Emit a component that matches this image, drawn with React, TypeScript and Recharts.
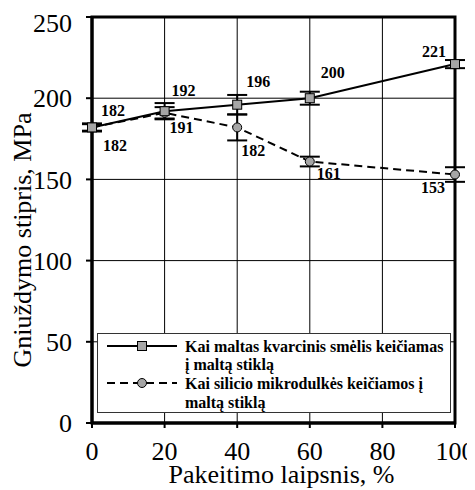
import React from 'react';
import {
  LineChart, Line, XAxis, YAxis, CartesianGrid, ErrorBar, LabelList, Legend, ReferenceArea,
} from 'recharts';

const replacement = [0, 20, 40, 60, 100];
const quartzValues = [182, 192, 196, 200, 221];
const quartzErrors = [2, 5, 6, 4, 2.5];
const silicaValues = [182, 191, 182, 161, 153];
const silicaErrors = [2.5, 3.5, 8, 3, 4.5];
const xTicks = [0, 20, 40, 60, 80, 100];
const yTicks = [0, 50, 100, 150, 200, 250];

const quartzName = ['Kai maltas kvarcinis smėlis keičiamas', 'į maltą stiklą'];
const silicaName = ['Kai silicio mikrodulkės keičiamos į', 'maltą stiklą'];

const data = replacement.map((x, i) => ({
  x,
  quartz: quartzValues[i],
  quartzErr: quartzErrors[i],
  silica: silicaValues[i],
  silicaErr: silicaErrors[i],
}));

// label offsets (styling), per point index
const quartzLabelOffset = [[21, -17], [19, -21], [21, -23], [23, -26], [-21, -13]];
const silicaLabelOffset = [[23, 18], [17, 15], [16, 23], [19, 12], [-22, 13]];

const FONT = 'Liberation Serif';
const GRAY = '#a6a6a6';
const DASH = '8 5';
const serif = { fontFamily: FONT };

const makeLabel = (offsets: number[][]) => (props: any) => {
  const { x, y, value, index } = props;
  const [dx, dy] = offsets[index] || [0, 0];
  return (
    <text
      x={x + dx}
      y={y + dy}
      textAnchor="middle"
      dominantBaseline="central"
      fontFamily={FONT}
      fontWeight="bold"
      fontSize={16}
      fill="#000"
    >
      {value}
    </text>
  );
};

const SquareDot = (props: any) => {
  const { cx, cy, index } = props;
  if (cx == null || cy == null) return null;
  return <rect key={`sq-${index}`} x={cx - 4.5} y={cy - 4.5} width={9} height={9} fill={GRAY} stroke="#000" strokeWidth={1} />;
};

const LegendBox = () => (
  <svg width={354} height={80} style={{ display: 'block' }}>
    <rect x={0.5} y={0.5} width={353} height={79} fill="#fff" stroke="#333" strokeWidth={1} />
    <line x1={10} y1={13} x2={80} y2={13} stroke="#000" strokeWidth={2} />
    <rect x={40.5} y={8.5} width={9} height={9} fill={GRAY} stroke="#000" strokeWidth={1} />
    <text x={88} y={13} dominantBaseline="central" fontFamily={FONT} fontWeight="bold" fontSize={16}>{quartzName[0]}</text>
    <text x={88} y={31} dominantBaseline="central" fontFamily={FONT} fontWeight="bold" fontSize={16}>{quartzName[1]}</text>
    <line x1={10} y1={50} x2={80} y2={50} stroke="#000" strokeWidth={2} strokeDasharray={DASH} />
    <circle cx={45} cy={50} r={4.5} fill={GRAY} stroke="#000" strokeWidth={1} />
    <text x={88} y={50} dominantBaseline="central" fontFamily={FONT} fontWeight="bold" fontSize={16}>{silicaName[0]}</text>
    <text x={88} y={69} dominantBaseline="central" fontFamily={FONT} fontWeight="bold" fontSize={16}>{silicaName[1]}</text>
  </svg>
);

export default function App() {
  return (
    <div style={{ width: 475, height: 490, fontFamily: FONT }}>
      <LineChart width={475} height={490} data={data} margin={{ top: 9, right: 28, left: 0, bottom: 0 }} style={serif}>
        <CartesianGrid stroke="#000" strokeWidth={1} />
        <XAxis
          dataKey="x"
          type="number"
          domain={[0, 100]}
          ticks={xTicks}
          height={75}
          axisLine={{ stroke: '#000', strokeWidth: 3 }}
          tickLine={{ stroke: '#000', strokeWidth: 2 }}
          tickSize={5}
          tickMargin={14}
          tick={{ fill: '#000', fontSize: 26, fontFamily: FONT }}
          label={{
            content: (p: any) => {
              const vb = p.viewBox || {};
              return (
                <text x={vb.x + vb.width / 2 + 8} y={vb.y + 51} textAnchor="middle" dominantBaseline="central" fontFamily={FONT} fontSize={26} fill="#000">
                  Pakeitimo laipsnis, %
                </text>
              );
            },
          }}
        />
        <YAxis
          type="number"
          domain={[0, 250]}
          ticks={yTicks}
          width={84}
          axisLine={{ stroke: '#000', strokeWidth: 3 }}
          tickLine={{ stroke: '#000', strokeWidth: 2 }}
          tickSize={6}
          tickMargin={14}
          tick={{ fill: '#000', fontSize: 26, fontFamily: FONT }}
          label={{
            content: () => (
              <text x={23} y={232} transform="rotate(-90 23 232)" textAnchor="middle" fontFamily={FONT} fontSize={26} fill="#000">
                Gniuždymo stipris, MPa
              </text>
            ),
          }}
        />
        <ReferenceArea x1={0} x2={100} y1={0} y2={250} fill="none" stroke="#000" strokeWidth={3} ifOverflow="visible" />
        <Legend
          layout="vertical"
          align="center"
          verticalAlign="middle"
          content={() => <LegendBox />}
          wrapperStyle={{ position: 'absolute', left: 89, top: 325, width: 354, height: 80 }}
        />
        <Line
          dataKey="silica"
          stroke="#000"
          strokeWidth={2}
          strokeDasharray={DASH}
          dot={{ r: 4.5, fill: GRAY, stroke: '#000', strokeWidth: 1, strokeDasharray: '' }}
          isAnimationActive={false}
        >
          <ErrorBar dataKey="silicaErr" direction="y" width={10} stroke="#000" strokeWidth={2} />
          <LabelList dataKey="silica" content={makeLabel(silicaLabelOffset)} />
        </Line>
        <Line
          dataKey="quartz"
          stroke="#000"
          strokeWidth={2}
          dot={SquareDot}
          isAnimationActive={false}
        >
          <ErrorBar dataKey="quartzErr" direction="y" width={10} stroke="#000" strokeWidth={2} />
          <LabelList dataKey="quartz" content={makeLabel(quartzLabelOffset)} />
        </Line>
      </LineChart>
    </div>
  );
}
